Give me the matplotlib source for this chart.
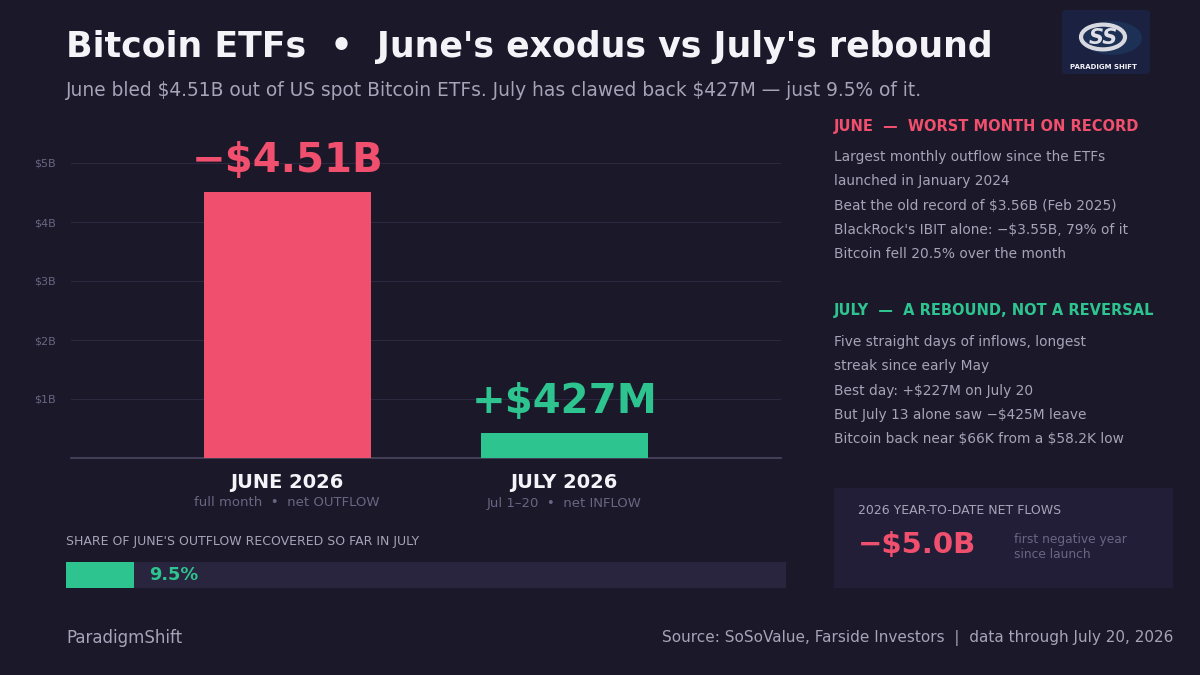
import matplotlib
matplotlib.use("Agg")
import matplotlib.pyplot as plt
from matplotlib.patches import Rectangle, FancyBboxPatch, Circle

FONT = "DejaVu Sans"
plt.rcParams['font.family'] = [FONT]

# data
months = ["JUNE 2026", "JULY 2026"]
month_notes = ["full month  \u2022  net OUTFLOW", "Jul 1\u201320  \u2022  net INFLOW"]
flows_b = [4.51, 0.427]          # size of net flow, $B
flow_labels = ["\u2212$4.51B", "+$427M"]
ytick_vals = [1, 2, 3, 4, 5]
ytick_labels = ["$1B", "$2B", "$3B", "$4B", "$5B"]
recovered_pct = 9.5

june_notes = [
    "Largest monthly outflow since the ETFs",
    "launched in January 2024",
    "Beat the old record of $3.56B (Feb 2025)",
    "BlackRock's IBIT alone: \u2212$3.55B, 79% of it",
    "Bitcoin fell 20.5% over the month",
]
july_notes = [
    "Five straight days of inflows, longest",
    "streak since early May",
    "Best day: +$227M on July 20",
    "But July 13 alone saw \u2212$425M leave",
    "Bitcoin back near $66K from a $58.2K low",
]
ytd_value = "\u2212$5.0B"

# colours
BG = "#1b1829"
PINK = "#f0506e"
GREEN = "#2ec490"
WHITE = "#f4f3f8"
GREY = "#a7a3b8"
DIM = "#6a6582"
GRID = "#2b2840"

W, H = 1200, 675


def fx(x):
    return x / W


def fy(y):
    return 1 - y / H


def put(x, y, s, **kw):
    # plain text at pixel position, no mathtext for the $ signs
    kw.setdefault("va", "center")
    kw.setdefault("ha", "left")
    return fig.text(fx(x), fy(y), s, parse_math=False, family=FONT, **kw)


fig = plt.figure(figsize=(12, 6.75), dpi=100, facecolor=BG)

# title block
put(66, 47, "Bitcoin ETFs  \u2022  June's exodus vs July's rebound",
    color=WHITE, fontsize=25, fontweight="bold")
put(66, 90, "June bled $4.51B out of US spot Bitcoin ETFs. July has clawed back $427M \u2014 just 9.5% of it.",
    color=GREY, fontsize=13.4)

# main bar chart
ax_l, ax_r, ax_b, ax_t = 71, 781, 458, 140
ax = fig.add_axes([fx(ax_l), fy(ax_b), (ax_r - ax_l) / W, (ax_b - ax_t) / H])
ax.set_facecolor(BG)
xs = list(range(len(months)))
ax.bar(xs, flows_b, width=0.6, color=[PINK, GREEN], zorder=3)
ax.set_xlim(-0.78, 1.78)
ax.set_ylim(0, 5 + (163 - ax_t) / 59.0)
ax.set_yticks(ytick_vals)
ax.set_yticklabels([t.replace("$", r"\$") for t in ytick_labels], color=DIM,
                   fontsize=8, family=FONT)
ax.tick_params(axis="y", length=0, pad=11)
ax.set_xticks([])
ax.grid(axis="y", color=GRID, linewidth=0.8, zorder=0)
for s in ["top", "right", "left"]:
    ax.spines[s].set_visible(False)
ax.spines["bottom"].set_color("#4a4660")
ax.spines["bottom"].set_linewidth(1.2)

for x, v, lab, c in zip(xs, flows_b, flow_labels, [PINK, GREEN]):
    ax.annotate(lab, (x, v), xytext=(0, 8), textcoords="offset points",
                ha="center", va="bottom", color=c, fontsize=29, fontweight="bold",
                parse_math=False, family=FONT)

label_x = [287, 564]
for lx, m, note in zip(label_x, months, month_notes):
    put(lx, 483, m, color=WHITE, fontsize=14, fontweight="bold", ha="center")
    put(lx, 503, note, color=DIM, fontsize=9.5, ha="center")

# recovery progress bar
put(66, 541, "SHARE OF JUNE'S OUTFLOW RECOVERED SO FAR IN JULY", color=GREY, fontsize=9)
pax = fig.add_axes([fx(66), fy(588), (786 - 66) / W, (588 - 562) / H])
pax.barh([0], [100], height=1, color="#29253f", zorder=1)
pax.barh([0], [recovered_pct], height=1, color=GREEN, zorder=2)
pax.set_xlim(0, 100)
pax.set_ylim(-0.5, 0.5)
pax.axis("off")
pax.text(recovered_pct + 2.1, 0, f"{recovered_pct}%", color=GREEN, fontsize=12.8,
         fontweight="bold", ha="left", va="center", family=FONT)

# right-hand notes
line_gap = 24.3
put(834, 126, "JUNE  \u2014  WORST MONTH ON RECORD", color=PINK, fontsize=10.5, fontweight="bold")
for i, t in enumerate(june_notes):
    put(834, 157 + i * line_gap, t, color=GREY, fontsize=9.9)
put(834, 311, "JULY  \u2014  A REBOUND, NOT A REVERSAL", color=GREEN, fontsize=10.5, fontweight="bold")
for i, t in enumerate(july_notes):
    put(834, 342 + i * line_gap, t, color=GREY, fontsize=9.9)

# YTD box
fig.patches.append(Rectangle((fx(834), fy(588)), (1173 - 834) / W, (588 - 488) / H,
                             transform=fig.transFigure, facecolor="#221e38",
                             edgecolor="none", zorder=0))
put(858, 511, "2026 YEAR-TO-DATE NET FLOWS", color=GREY, fontsize=9)
put(858, 545, ytd_value, color=PINK, fontsize=21, fontweight="bold")
put(1014, 540, "first negative year", color=DIM, fontsize=8.8)
put(1014, 554, "since launch", color=DIM, fontsize=8.8)

# logo (rough stand-in)
fig.patches.append(FancyBboxPatch((fx(1062), fy(74)), (1150 - 1062) / W, (74 - 10) / H,
                                  boxstyle="round,pad=0,rounding_size=0.004",
                                  transform=fig.transFigure, facecolor="#1b2140",
                                  edgecolor="none", zorder=0))
fig.patches.append(Circle((fx(1112), fy(38)), 30 / W, transform=fig.transFigure,
                          facecolor="#1f3f6a", edgecolor="none", alpha=0.5, zorder=0))
fig.patches.append(Circle((fx(1103), fy(37)), 22 / W, transform=fig.transFigure,
                          facecolor="none", edgecolor="#d8d8e0", linewidth=3, zorder=1))
put(1103, 38, "SS", color="#e0e0e8", fontsize=15, fontweight="bold", ha="center",
    style="italic")
put(1103, 67, "PARADIGM SHIFT", color=WHITE, fontsize=5, fontweight="bold", ha="center")

# footer
put(66, 638, "ParadigmShift", color=GREY, fontsize=12)
put(1173, 638, "Source: SoSoValue, Farside Investors  |  data through July 20, 2026",
    color=GREY, fontsize=11, ha="right")

fig.savefig("out.png", dpi=100, facecolor=BG)
